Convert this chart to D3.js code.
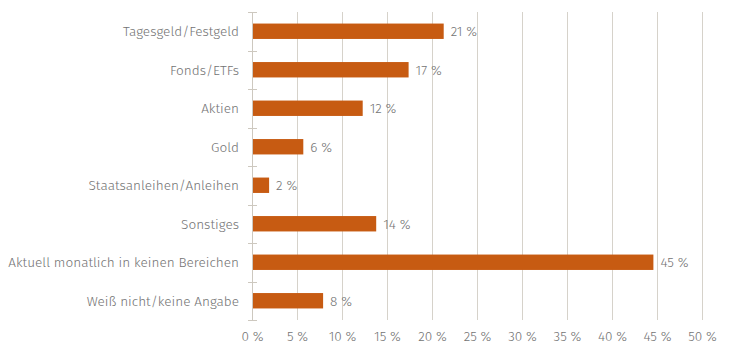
<!DOCTYPE html>
<html>
<head>
<meta charset="utf-8">
<script src="https://cdn.jsdelivr.net/npm/d3@7"></script>
<style>
  body { margin: 0; background: #fff; }
  svg text { font-family: "Fira Sans", "Noto Sans", sans-serif; font-weight: 300; fill: #737373; }
</style>
</head>
<body>
<svg id="chart"></svg>
<script>
const categories = [
  'Tagesgeld/Festgeld',
  'Fonds/ETFs',
  'Aktien',
  'Gold',
  'Staatsanleihen/Anleihen',
  'Sonstiges',
  'Aktuell monatlich in keinen Bereichen',
  'Weiß nicht/keine Angabe'
];
const values = [21.3, 17.4, 12.3, 5.7, 1.9, 13.8, 44.6, 7.9];
const valueLabels = ['21 %', '17 %', '12 %', '6 %', '2 %', '14 %', '45 %', '8 %'];
const xTicks = [0, 5, 10, 15, 20, 25, 30, 35, 40, 45, 50];

const width = 729, height = 352;
const plotLeft = 252, plotRight = 702, plotTop = 12, plotBottom = 320;
const fontSize = 13.6;

const svg = d3.select('#chart')
  .attr('width', width)
  .attr('height', height);

const x = d3.scaleLinear().domain([0, 50]).range([plotLeft, plotRight]);
const y = d3.scaleBand().domain(categories).range([plotTop, plotBottom]).paddingInner(0.6).paddingOuter(0.3);

// grid lines
svg.append('g')
  .selectAll('line')
  .data(xTicks.slice(1))
  .join('line')
  .attr('x1', d => Math.round(x(d)) + 0.5).attr('x2', d => Math.round(x(d)) + 0.5)
  .attr('y1', plotTop).attr('y2', plotBottom)
  .attr('stroke', '#d6d2ca')
  .attr('stroke-width', 1);

// x axis labels
svg.append('g')
  .attr('transform', 'translate(0,' + plotBottom + ')')
  .call(d3.axisBottom(x).tickValues(xTicks).tickSize(0).tickPadding(11).tickFormat(d => d + ' %'))
  .call(g => g.select('.domain').remove())
  .call(g => g.selectAll('text').attr('font-size', fontSize).attr('fill', '#737373').attr('font-family', null));

// y axis line and boundary ticks
const bounds = d3.range(categories.length + 1).map(i => plotTop + i * (plotBottom - plotTop) / categories.length);
svg.append('line')
  .attr('x1', x(0) + 0.5).attr('x2', x(0) + 0.5)
  .attr('y1', plotTop).attr('y2', plotBottom)
  .attr('stroke', '#cdc8bf');
svg.append('g')
  .selectAll('line')
  .data(bounds)
  .join('line')
  .attr('x1', x(0) - 4).attr('x2', x(0) + 5)
  .attr('y1', d => Math.round(d) + 0.5).attr('y2', d => Math.round(d) + 0.5)
  .attr('stroke', '#cdc8bf');

// bars
svg.append('g')
  .selectAll('rect')
  .data(values)
  .join('rect')
  .attr('x', x(0) + 1)
  .attr('y', (d, i) => y(categories[i]))
  .attr('width', d => x(d) - x(0) - 1)
  .attr('height', y.bandwidth())
  .attr('fill', '#c75b12');

// value labels
svg.append('g')
  .selectAll('text')
  .data(values)
  .join('text')
  .attr('x', d => x(d) + 7)
  .attr('y', (d, i) => y(categories[i]) + y.bandwidth() / 2)
  .attr('dy', '0.35em')
  .attr('font-size', fontSize)
  .text((d, i) => valueLabels[i]);

// category labels
svg.append('g')
  .selectAll('text')
  .data(categories)
  .join('text')
  .attr('x', 239)
  .attr('y', d => y(d) + y.bandwidth() / 2)
  .attr('dy', '0.35em')
  .attr('text-anchor', 'end')
  .attr('font-size', fontSize)
  .text(d => d);
</script>
</body>
</html>
